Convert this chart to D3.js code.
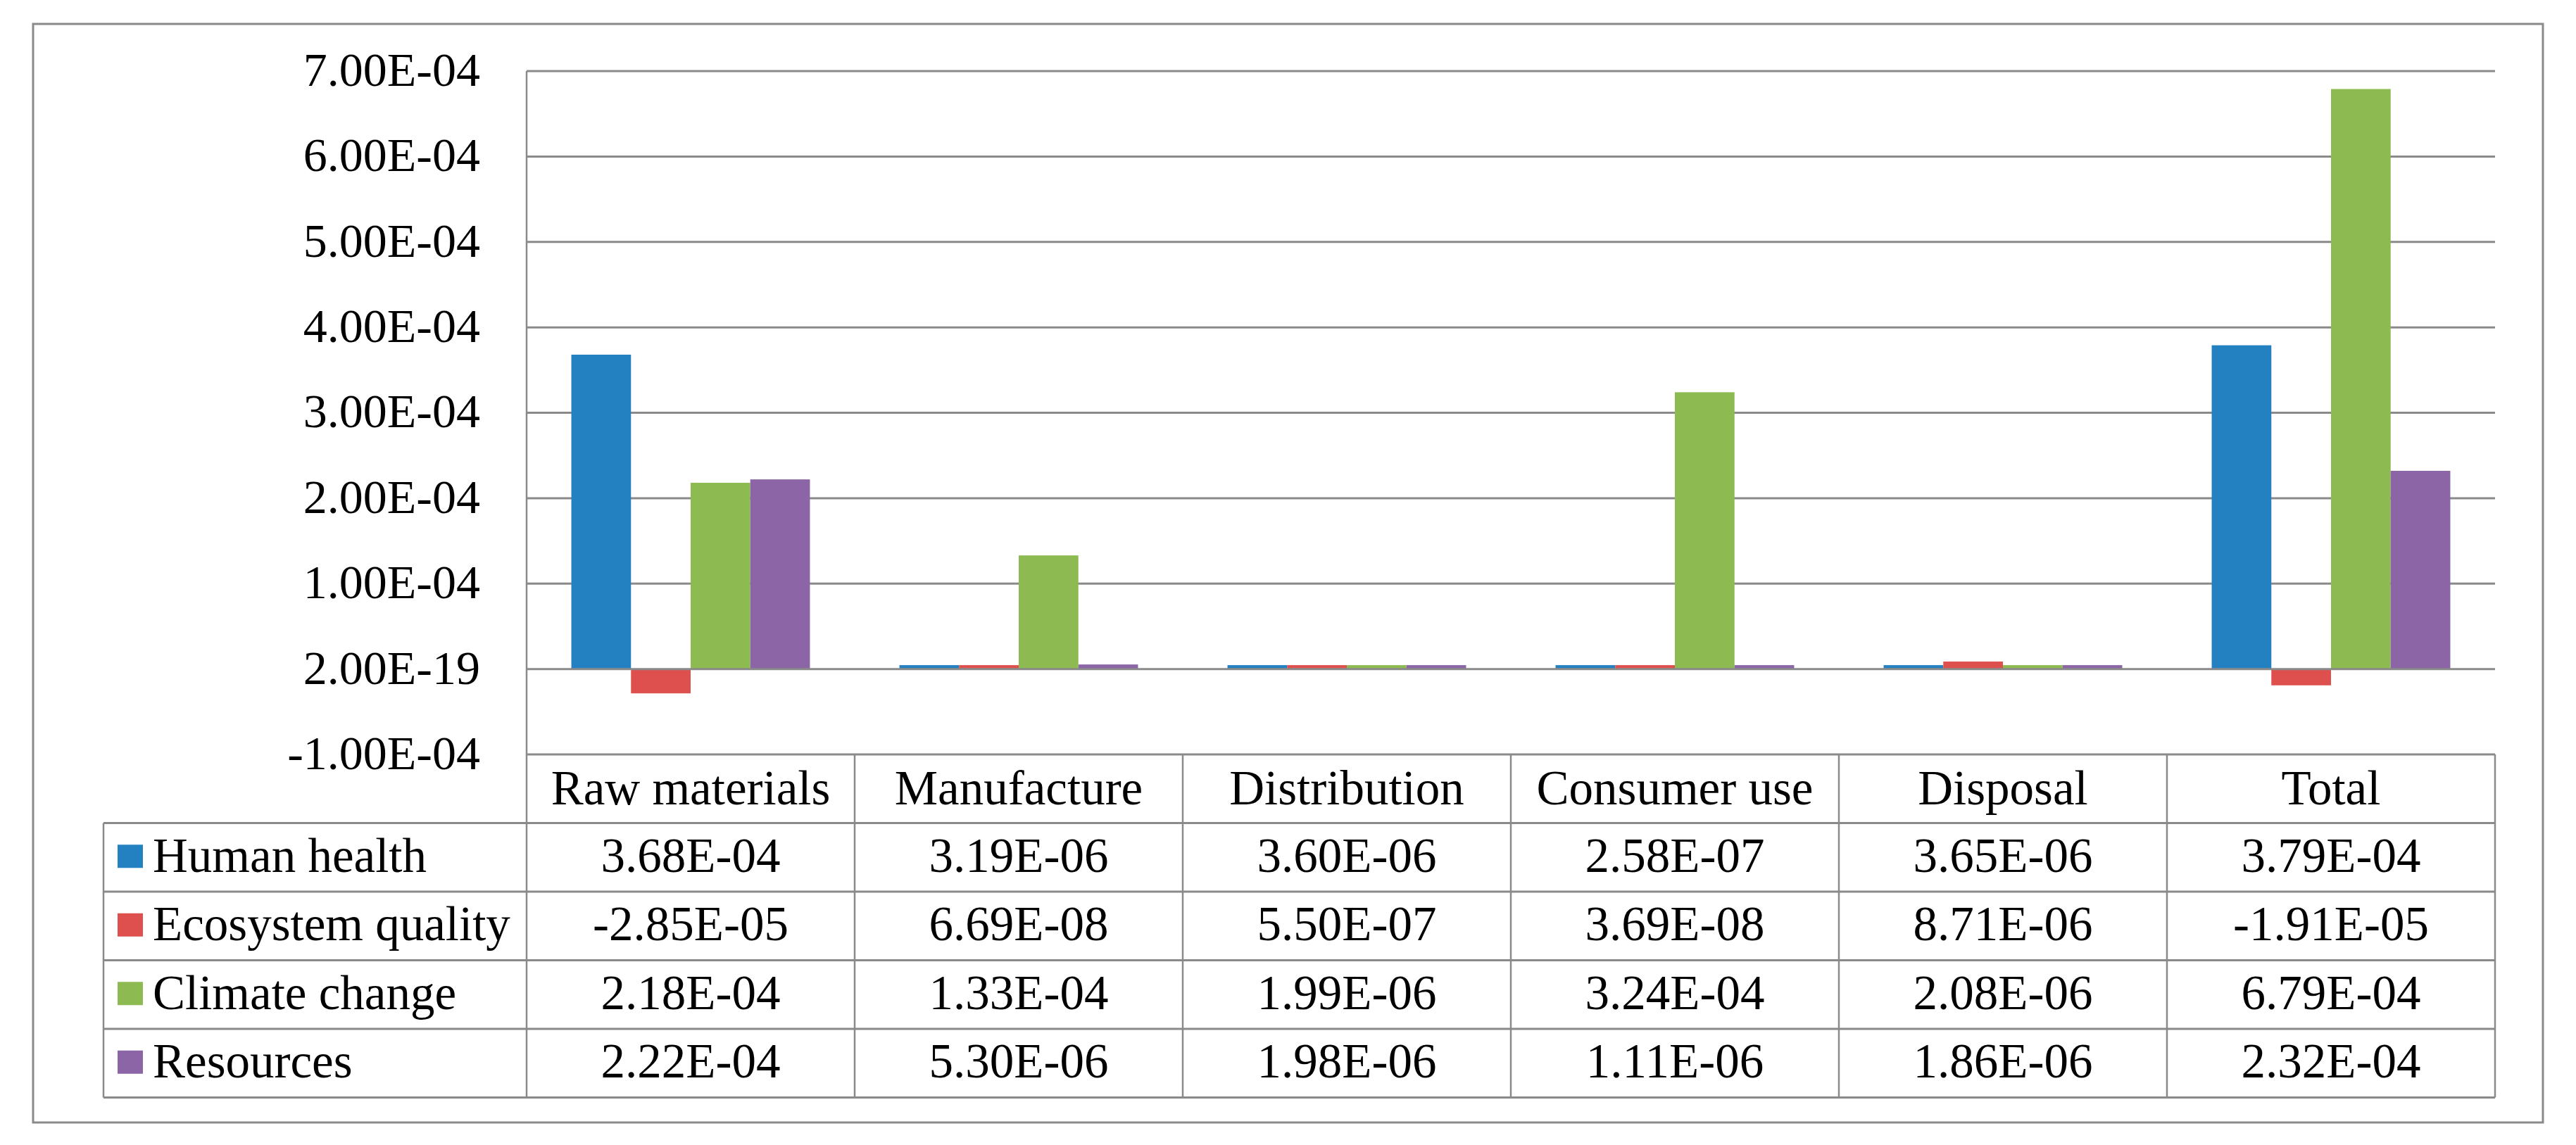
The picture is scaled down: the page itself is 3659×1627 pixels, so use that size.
<!DOCTYPE html>
<html>
<head>
<meta charset="utf-8">
<script src="https://cdn.jsdelivr.net/npm/d3@7/dist/d3.min.js"></script>
<style>
  html, body { margin: 0; padding: 0; background: #ffffff; }
  svg { display: block; }
  svg text { font-family: 'Liberation Serif', 'Times New Roman', 'DejaVu Serif', serif !important; fill: #000; }
</style>
</head>
<body>
<svg id="chart" width="3659" height="1627"></svg>
<script>
// ---- data ----
const categories = ["Raw materials", "Manufacture", "Distribution", "Consumer use", "Disposal", "Total"];
const seriesNames = ["Human health", "Ecosystem quality", "Climate change", "Resources"];
const humanHealth      = [3.68e-4, 3.19e-6, 3.60e-6, 2.58e-7, 3.65e-6, 3.79e-4];
const ecosystemQuality = [-2.85e-5, 6.69e-8, 5.50e-7, 3.69e-8, 8.71e-6, -1.91e-5];
const climateChange    = [2.18e-4, 1.33e-4, 1.99e-6, 3.24e-4, 2.08e-6, 6.79e-4];
const resources        = [2.22e-4, 5.30e-6, 1.98e-6, 1.11e-6, 1.86e-6, 2.32e-4];
const tickValues = [-1e-4, 0, 1e-4, 2e-4, 3e-4, 4e-4, 5e-4, 6e-4, 7e-4];
const tickLabels = ["-1.00E-04", "2.00E-19", "1.00E-04", "2.00E-04", "3.00E-04", "4.00E-04", "5.00E-04", "6.00E-04", "7.00E-04"];
const colors = ["#2481C1", "#DE504E", "#8DBB51", "#8B65A6"];

const seriesValues = [humanHealth, ecosystemQuality, climateChange, resources];

// ---- layout ----
const plotLeft = 748, plotRight = 3544, plotTop = 101, plotBottom = 1072;
const tableLeft = 147, rowH = 97.5;
const fontSize = 69, tickFontSize = 68;
const FONT = "'Liberation Serif', 'Times New Roman', 'DejaVu Serif', serif";
const grid = "#8A8A8A";

const svg = d3.select("#chart");

// outer frame
svg.append("rect").attr("x", 47).attr("y", 34).attr("width", 3612 - 47).attr("height", 1595 - 34)
  .attr("fill", "#fff").attr("stroke", grid).attr("stroke-width", 3);

const y = d3.scaleLinear().domain([-1e-4, 7e-4]).range([plotBottom, plotTop]);
const x0 = d3.scaleBand().domain(categories).range([plotLeft, plotRight]).paddingInner(0).paddingOuter(0);
const x1 = d3.scaleBand().domain(seriesNames).range([0, x0.bandwidth()]).paddingInner(0).paddingOuter(0.75);

// gridlines (behind bars)
svg.append("g").selectAll("line").data(tickValues.filter(v => v !== 0 && v !== -1e-4)).join("line")
  .attr("x1", plotLeft).attr("x2", plotRight)
  .attr("y1", d => y(d)).attr("y2", d => y(d))
  .attr("stroke", grid).attr("stroke-width", 3);

const fmtExp = v => {
  const [m, e] = v.toExponential(2).split("e");
  const n = parseInt(e, 10);
  return m + "E" + (n < 0 ? "-" : "+") + String(Math.abs(n)).padStart(2, "0");
};

const barData = [];
categories.forEach((c, ci) => {
  seriesNames.forEach((s, si) => {
    barData.push({ cat: c, ser: s, si: si, v: seriesValues[si][ci] });
  });
});

const posH = d => Math.max(y(0) - y(d.v), 5.5);
svg.append("g").selectAll("rect").data(barData).join("rect")
  .attr("x", d => x0(d.cat) + x1(d.ser))
  .attr("width", x1.bandwidth())
  .attr("y", d => d.v >= 0 ? y(0) - posH(d) : y(0))
  .attr("height", d => d.v >= 0 ? posH(d) : y(d.v) - y(0))
  .attr("fill", d => colors[d.si]);

// zero line on top
svg.append("line").attr("x1", plotLeft).attr("x2", plotRight)
  .attr("y1", y(0)).attr("y2", y(0)).attr("stroke", grid).attr("stroke-width", 3);

// y axis line
svg.append("line").attr("x1", plotLeft).attr("x2", plotLeft)
  .attr("y1", plotTop).attr("y2", plotBottom).attr("stroke", grid).attr("stroke-width", 2.5);

// y axis labels via d3 axis
const yAxis = d3.axisLeft(y).tickValues(tickValues)
  .tickFormat((d, i) => tickLabels[i]).tickSize(0).tickPadding(66);
const yg = svg.append("g").attr("transform", `translate(${plotLeft},0)`).call(yAxis)
  .attr("font-family", FONT).attr("font-size", tickFontSize);
yg.select(".domain").remove();
yg.selectAll("text").attr("dy", "0.3em").style("font-family", FONT).style("font-size", tickFontSize + "px").attr("fill", "#000");

// ---- data table ----
const tableTop = plotBottom;
const tableBottom = tableTop + rowH * 5;
const tg = svg.append("g").style("font-family", FONT).style("font-size", fontSize + "px");

tg.append("line").attr("x1", plotLeft).attr("x2", plotRight).attr("y1", tableTop).attr("y2", tableTop)
  .attr("stroke", grid).attr("stroke-width", 3);
d3.range(1, 6).forEach(r => {
  tg.append("line").attr("x1", tableLeft).attr("x2", plotRight)
    .attr("y1", tableTop + r * rowH).attr("y2", tableTop + r * rowH)
    .attr("stroke", grid).attr("stroke-width", 3);
});
tg.append("line").attr("x1", tableLeft).attr("x2", tableLeft).attr("y1", tableTop + rowH).attr("y2", tableBottom)
  .attr("stroke", grid).attr("stroke-width", 2.5);
d3.range(categories.length + 1).forEach(i => {
  const xx = plotLeft + i * x0.bandwidth();
  tg.append("line").attr("x1", xx).attr("x2", xx).attr("y1", tableTop).attr("y2", tableBottom)
    .attr("stroke", grid).attr("stroke-width", 2.5);
});

tg.selectAll("text.hdr").data(categories).join("text").attr("class", "hdr")
  .attr("x", d => x0(d) + x0.bandwidth() / 2)
  .attr("y", tableTop + rowH / 2)
  .attr("dy", "0.32em")
  .attr("text-anchor", "middle")
  .style("font-family", FONT).style("font-size", fontSize + "px")
  .text(d => d);

seriesNames.forEach((s, si) => {
  const cy = tableTop + rowH * (si + 1) + rowH / 2;
  tg.append("rect").attr("x", 167).attr("y", cy - 18).attr("width", 36).attr("height", 33)
    .attr("fill", colors[si]);
  tg.append("text").attr("x", 217).attr("y", cy).attr("dy", "0.3em")
    .style("font-family", FONT).style("font-size", fontSize + "px").text(s);
  tg.selectAll(null).data(categories).join("text")
    .attr("x", d => x0(d) + x0.bandwidth() / 2)
    .attr("y", cy).attr("dy", "0.3em")
    .attr("text-anchor", "middle")
    .style("font-family", FONT).style("font-size", fontSize + "px")
    .text((d, ci) => fmtExp(seriesValues[si][ci]));
});
</script>
</body>
</html>
